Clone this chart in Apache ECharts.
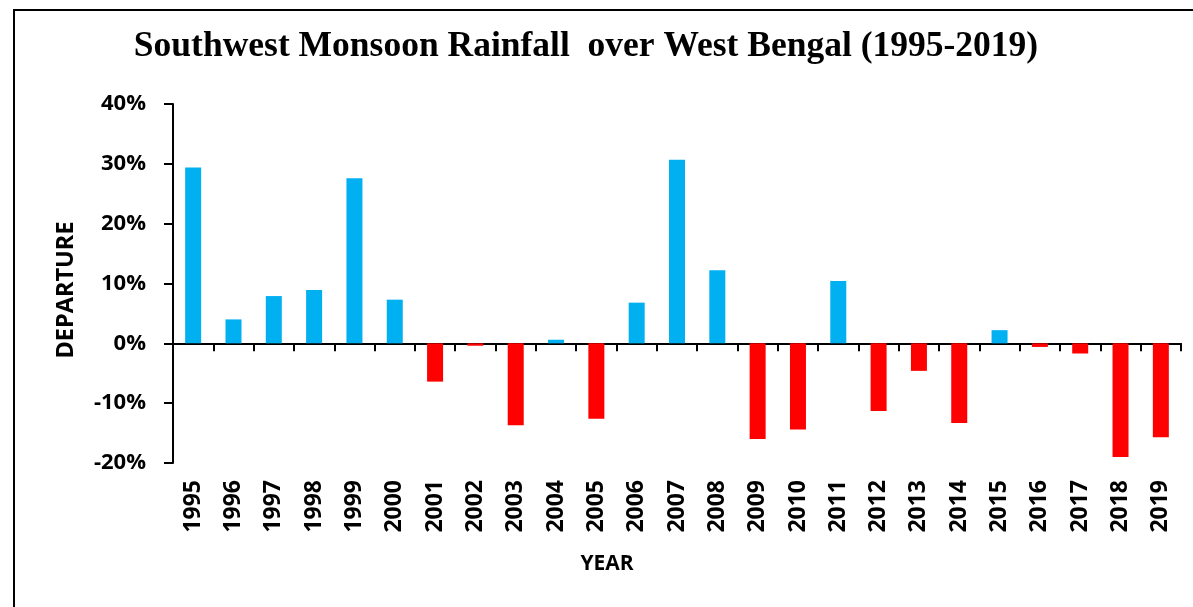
<!DOCTYPE html>
<html>
<head>
<meta charset="utf-8">
<script src="https://cdn.jsdelivr.net/npm/echarts@6/dist/echarts.min.js"></script>
<style>
  html, body { margin: 0; padding: 0; background: #fff; }
  #rainChart { width: 1193px; height: 607px; }
</style>
</head>
<body>
<div id="rainChart"></div>
<script>
const years = [
  "1995", "1996", "1997", "1998", "1999", "2000", "2001", "2002", "2003",
  "2004", "2005", "2006", "2007", "2008", "2009", "2010", "2011", "2012",
  "2013", "2014", "2015", "2016", "2017", "2018", "2019"
];
// departure from normal, in percent
const departure = [
  29.4, 4.0, 7.9, 8.9, 27.6, 7.3, -6.4, -0.4, -13.7,
  0.6, -12.6, 6.8, 30.7, 12.2, -16.0, -14.4, 10.4, -11.3,
  -4.6, -13.3, 2.2, -0.6, -1.7, -19.0, -15.7
];

const sans = "'Open Sans', sans-serif";

let rainChart = echarts.init(document.getElementById("rainChart"));
rainChart.setOption({
  backgroundColor: "#fff",
  animation: false,
  grid: {
    left: 173,
    right: 12,
    top: 104,
    bottom: 144,
    outerBoundsMode: "none"
  },
  graphic: [
    {
      // outer frame, cut off at right and bottom
      type: "rect",
      shape: { x: 14, y: 10, width: 1300, height: 700 },
      style: { fill: "none", stroke: "#000", lineWidth: 2 }
    },
    {
      type: "text",
      x: 586,
      y: 47,
      style: {
        text: "Southwest Monsoon Rainfall  over West Bengal (1995-2019)",
        font: "bold 35.5px 'Liberation Serif', serif",
        fill: "#000",
        align: "center",
        verticalAlign: "middle"
      }
    },
    {
      type: "text",
      x: 607,
      y: 564,
      style: {
        text: "YEAR",
        font: "bold 21px " + sans,
        fill: "#000",
        align: "center",
        verticalAlign: "middle"
      }
    },
    {
      type: "text",
      x: 66,
      y: 290,
      rotation: Math.PI / 2,
      style: {
        text: "DEPARTURE",
        font: "bold 23.5px " + sans,
        fill: "#000",
        align: "center",
        verticalAlign: "middle"
      }
    }
  ],
  xAxis: [
    {
      // the zero line with its ticks
      type: "category",
      data: years,
      axisLine: { onZero: true, lineStyle: { color: "#000", width: 2 } },
      axisTick: { show: true, length: 8, lineStyle: { color: "#000", width: 2 } },
      axisLabel: { show: false },
      splitLine: { show: false }
    },
    {
      // year labels at the bottom
      type: "category",
      data: years,
      position: "bottom",
      axisLine: { show: false, onZero: false },
      axisTick: { show: false },
      splitLine: { show: false },
      axisLabel: {
        interval: 0,
        rotate: 90,
        margin: 17,
        color: "#000",
        fontFamily: sans,
        fontWeight: "bold",
        fontSize: 23
      }
    }
  ],
  yAxis: {
    type: "value",
    min: -20,
    max: 40,
    interval: 10,
    axisLine: { show: true, lineStyle: { color: "#000", width: 2 } },
    axisTick: { show: true, length: 9, lineStyle: { color: "#000", width: 2 } },
    splitLine: { show: false },
    axisLabel: {
      margin: 27,
      color: "#000",
      fontFamily: sans,
      fontWeight: "bold",
      fontSize: 22,
      formatter: value => value + "%"
    }
  },
  series: [
    {
      type: "bar",
      xAxisIndex: 0,
      barWidth: 16,
      data: departure,
      itemStyle: {
        color: params => (params.value >= 0 ? "#00B0F0" : "#FF0000")
      }
    }
  ]
});
</script>
</body>
</html>
